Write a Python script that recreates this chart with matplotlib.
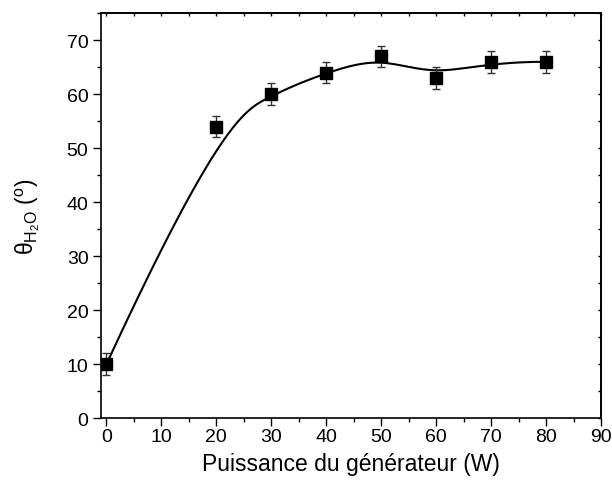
import matplotlib
matplotlib.use('Agg')
import matplotlib.pyplot as plt
from matplotlib.ticker import MultipleLocator
import numpy as np

plt.rcParams['font.family'] = 'Liberation Sans'
plt.rcParams['mathtext.fontset'] = 'custom'
plt.rcParams['mathtext.rm'] = 'Liberation Sans'
plt.rcParams['mathtext.it'] = 'Liberation Sans:italic'

# Data
power = [0, 20, 30, 40, 50, 60, 70, 80]
angle = [10, 54, 60, 64, 67, 63, 66, 66]
angle_err = [2, 2, 2, 2, 2, 2, 2, 2]


def bspline(cx, cy, n=400, k=3):
    # clamped B-spline using the data points as control points
    cx = np.asarray(cx, float)
    cy = np.asarray(cy, float)
    m = len(cx)
    inner = np.arange(1, m - k) / (m - k)
    knots = np.concatenate([np.zeros(k + 1), inner, np.ones(k + 1)])
    t = np.linspace(0, 1, n)
    t[-1] -= 1e-10
    B = np.zeros((n, len(knots) - 1))
    for i in range(len(knots) - 1):
        B[:, i] = (t >= knots[i]) & (t < knots[i + 1])
    for d in range(1, k + 1):
        Bn = np.zeros((n, len(knots) - 1 - d))
        for i in range(len(knots) - 1 - d):
            a = knots[i + d] - knots[i]
            b = knots[i + d + 1] - knots[i + 1]
            term = 0
            if a > 0:
                term = term + (t - knots[i]) / a * B[:, i]
            if b > 0:
                term = term + (knots[i + d + 1] - t) / b * B[:, i + 1]
            Bn[:, i] = term
        B = Bn
    return B @ cx, B @ cy


fig = plt.figure(figsize=(6.12, 4.89), dpi=100)
ax = fig.add_axes([0.165, 0.143, 0.817, 0.828])

sx, sy = bspline(power, angle)
ax.plot(sx, sy, color='black', lw=1.5, zorder=2)
ax.errorbar(power, angle, yerr=angle_err, fmt='none', ecolor='#333333',
            elinewidth=1, capsize=3, capthick=1, zorder=3)
ax.plot(power, angle, 's', color='black', markersize=8.5, zorder=4)

ax.set_xlim(-1, 90)
ax.set_ylim(0, 75)
for axis in (ax.xaxis, ax.yaxis):
    axis.set_major_locator(MultipleLocator(10))
    axis.set_minor_locator(MultipleLocator(5))

ax.tick_params(which='both', direction='out', width=1, labelsize=14)
ax.tick_params(which='major', length=5.5)
ax.tick_params(which='minor', length=3)
ax.tick_params(axis='x', pad=2)
ax.tick_params(axis='y', pad=3.5)
for s in ax.spines.values():
    s.set_linewidth(1.2)

# tiny mirrored ticks on top and right
top = ax.secondary_xaxis('top')
right = ax.secondary_yaxis('right')
for sec in (top, right):
    sec.xaxis.set_major_locator(MultipleLocator(10)) if sec is top else sec.yaxis.set_major_locator(MultipleLocator(10))
    sec.xaxis.set_minor_locator(MultipleLocator(5)) if sec is top else sec.yaxis.set_minor_locator(MultipleLocator(5))
    sec.tick_params(which='both', direction='in', length=2, width=1,
                    labeltop=False, labelright=False)
    sec.spines[:].set_linewidth(1.2)

ax.set_xlabel('Puissance du générateur (W)', fontsize=16.5, labelpad=5)
ax.set_ylabel(r'$\mathrm{θ}_{\mathrm{H_2O}}$ ($^{\mathrm{o}}$)', fontsize=16.5)
ax.yaxis.set_label_coords(-0.118, 0.5)

fig.savefig('out.png', dpi=100)
